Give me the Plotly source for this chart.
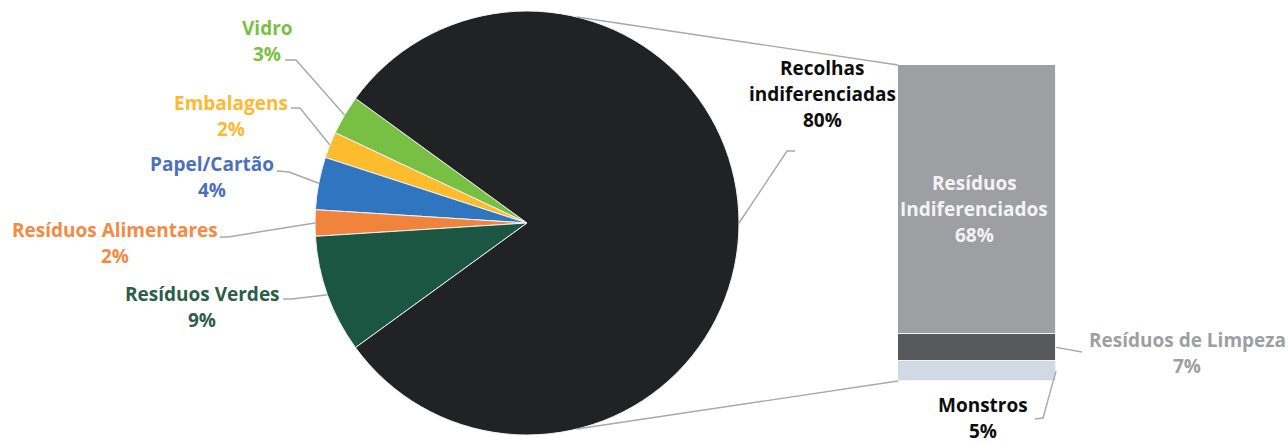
import math
import plotly.graph_objects as go

W, H = 1288, 443

# Pie: selective collections plus the undifferentiated share
pie_labels = ["Vidro", "Embalagens", "Papel/Cartão", "Resíduos Alimentares",
              "Resíduos Verdes", "Recolhas indiferenciadas"]
pie_values = [3, 2, 4, 2, 9, 80]
pie_colors = ["#78c043", "#fdbc2e", "#2f75c0", "#f0843c", "#1b5642", "#212224"]
pie_text_colors = ["#7ac143", "#fdb933", "#4c70be", "#f58a42", "#2b5e4a", "#0d0d0d"]

# Bar: breakdown of the undifferentiated share (top to bottom)
bar_labels = ["Resíduos Indiferenciados", "Resíduos de Limpeza", "Monstros"]
bar_values = [68, 7, 5]
bar_colors = ["#9d9fa2", "#58595b", "#d1d9e5"]
bar_text_colors = ["#f4f4f4", "#9d9fa2", "#0d0d0d"]

FONT = "Open Sans"
FS = 19
LINE = 26
LEADER = "#a8a8a8"


def fx(x):
    return x / W


def fy(y):
    return 1 - y / H


# geometry (pixels)
cx, cy, r = 527, 223, 212
bx0, bx1, by_top, by_bot = 898, 1056, 65, 381

other = sum(pie_values[:-1])
start_deg = 180 - other * 3.6 / 2  # small slices centred on the left

# plotly places the first counterclockwise slice clockwise of the rotation line,
# so the rotation is taken at the far edge of the first slice
rotation = 90 - (start_deg + 3.6 * pie_values[0])

fig = go.Figure()
fig.add_trace(go.Pie(
    labels=pie_labels, values=pie_values, sort=False,
    direction="counterclockwise", rotation=rotation,
    marker=dict(colors=pie_colors, line=dict(color="#f2f2f2", width=1)),
    textinfo="none", hoverinfo="label+percent", showlegend=False,
    domain=dict(x=[fx(cx - r), fx(cx + r)], y=[fy(cy + r), fy(cy - r)]),
))

total_bar = sum(bar_values)
for lab, val, col in list(zip(bar_labels, bar_values, bar_colors))[::-1]:
    fig.add_trace(go.Bar(
        x=[0], y=[val], name=lab, width=1, marker=dict(color=col, line=dict(color="#f4f4f4", width=1.2)),
        xaxis="x", yaxis="y", showlegend=False, hoverinfo="name+y",
    ))


def bar_px(v):
    return by_bot - v * (by_bot - by_top) / total_bar


shapes, annotations = [], []


def path(points):
    d = "M " + " L ".join(f"{fx(x):.5f},{fy(y):.5f}" for x, y in points)
    return dict(type="path", xref="paper", yref="paper", path=d,
                line=dict(color=LEADER, width=1.4), layer="above")


def label(lines, x, y0, color):
    for i, t in enumerate(lines):
        annotations.append(dict(
            text=t, x=fx(x), y=fy(y0 + i * LINE), xref="paper", yref="paper",
            xanchor="center", yanchor="middle", showarrow=False,
            font=dict(family=FONT, size=FS, color=color, weight="bold"),
        ))


# label placement and leader elbows for the pie slices (pixels)
pie_label_layout = [
    dict(lines=["Vidro"], x=267, y=28, elbow=[(285, 60), (296, 60)]),
    dict(lines=["Embalagens"], x=231, y=103, elbow=[(291, 108), (300, 108)]),
    dict(lines=["Papel/Cartão"], x=212, y=164, elbow=[(277, 171), (289, 172)]),
    dict(lines=["Resíduos Alimentares"], x=115, y=230, elbow=[(220, 237), (228, 237)]),
    dict(lines=["Resíduos Verdes"], x=202, y=294, elbow=[(283, 299), (292, 299)]),
    dict(lines=["Recolhas", "indiferenciadas"], x=822, y=68, elbow=[(795, 151), (787, 151)]),
]

acc = 0
for val, col, lay in zip(pie_values, pie_text_colors, pie_label_layout):
    mid = math.radians(start_deg + 3.6 * (acc + val / 2))
    acc += val
    edge = (cx + r * math.cos(mid), cy - r * math.sin(mid))
    shapes.append(path(lay["elbow"] + [edge]))
    label(lay["lines"] + [f"{val}%"], lay["x"], lay["y"], col)

# connectors from the pie to the bar
a = math.radians(76.4)
shapes.append(path([(cx + r * math.cos(a), cy - r * math.sin(a)), (bx0, bar_px(total_bar))]))
shapes.append(path([(cx + r * math.cos(a), cy + r * math.sin(a)), (bx0, bar_px(0))]))

# bar labels
bar_mid = (bx0 + bx1) / 2
tops = [total_bar - sum(bar_values[:i]) for i in range(len(bar_values))]
mids = [bar_px(t - v / 2) for t, v in zip(tops, bar_values)]

label(["Resíduos", "Indiferenciados", f"{bar_values[0]}%"], bar_mid - 3, 183, bar_text_colors[0])

shapes.append(path([(bx1, mids[1]), (1082, 352)]))
label(["Resíduos de Limpeza", f"{bar_values[1]}%"], 1187, 340, bar_text_colors[1])

shapes.append(path([(bx1, mids[2]), (1043, 418), (1035, 419)]))
label(["Monstros", f"{bar_values[2]}%"], 983, 405, bar_text_colors[2])

fig.update_layout(
    width=W, height=H, margin=dict(l=0, r=0, t=0, b=0),
    paper_bgcolor="white", plot_bgcolor="white", barmode="stack", bargap=0,
    xaxis=dict(domain=[fx(bx0), fx(bx1)], range=[-0.5, 0.5], visible=False, fixedrange=True),
    yaxis=dict(domain=[fy(by_bot), fy(by_top)], range=[0, total_bar], visible=False, fixedrange=True),
    shapes=shapes, annotations=annotations,
)

fig.write_html("out.html")
